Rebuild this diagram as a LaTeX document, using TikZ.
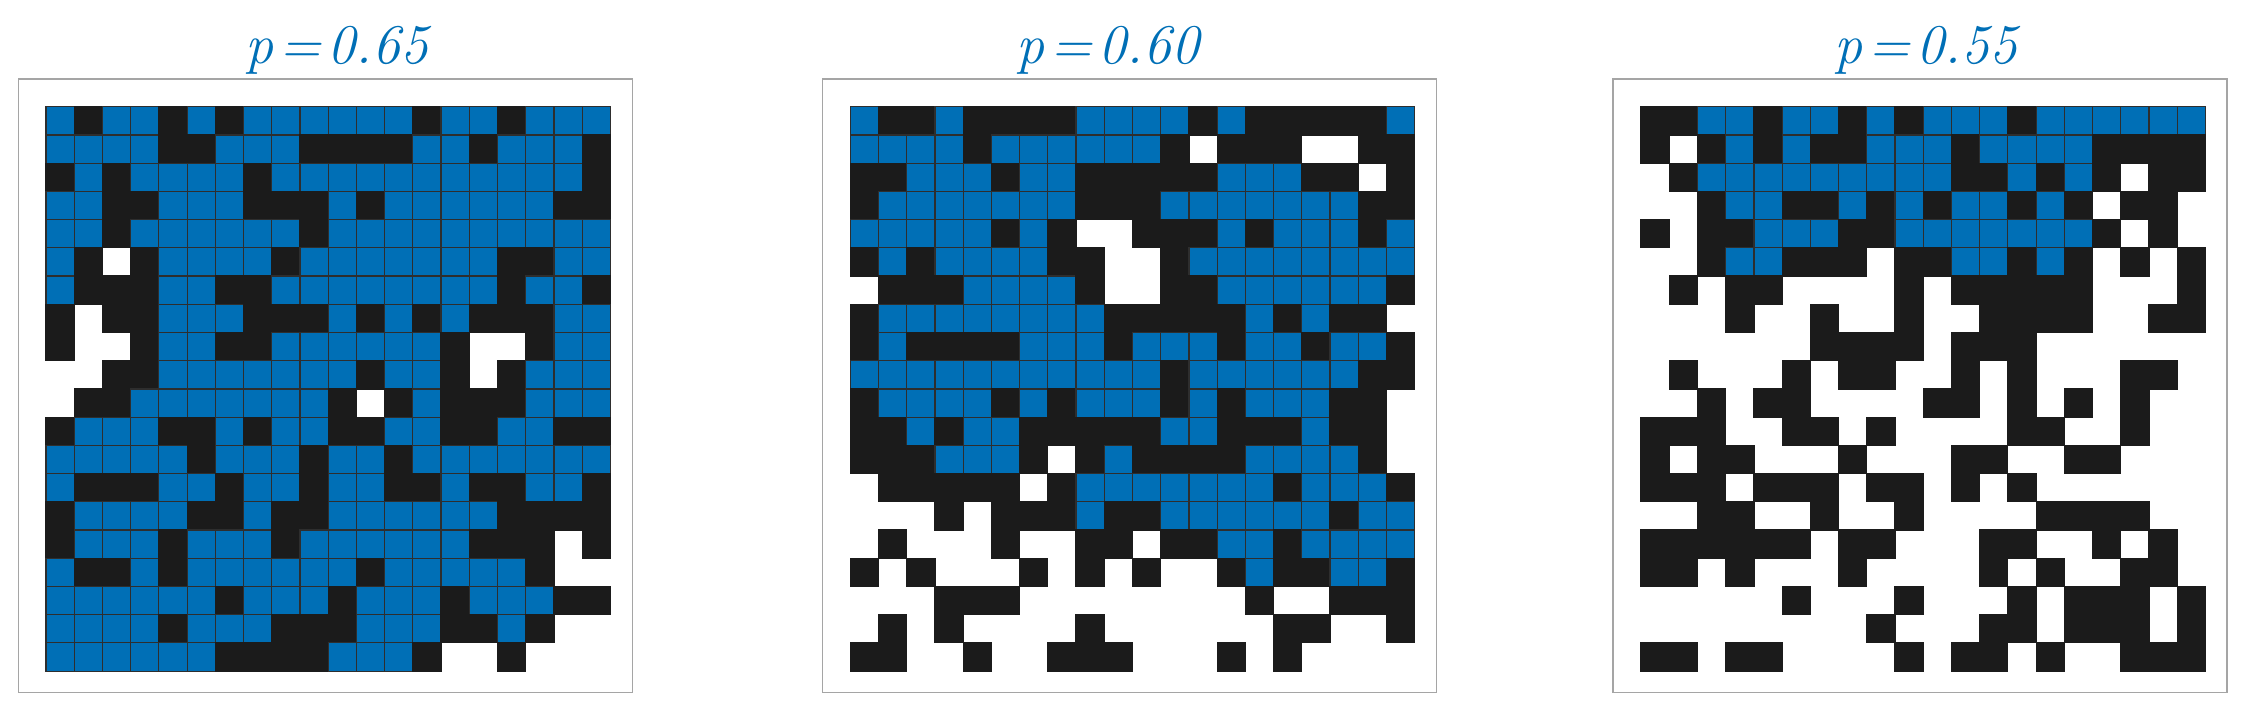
\documentclass[tikz,border=0pt]{standalone}
\usepackage{fontspec}
\definecolor{cellblue}{RGB}{0,111,182}
\definecolor{cellblack}{RGB}{27,27,27}
\definecolor{framegray}{RGB}{165,165,165}
\newcommand\percgrid[2]{%
  \foreach \row [count=\r from 0] in {#2} {
    \foreach \v [count=\c from 0] in \row {
      \ifnum\v=1 \path[blackcell] ({#1+\c*28.22},{106.7+\r*28.22}) rectangle ++(28.22,28.22); \fi
      \ifnum\v=2 \path[bluecell] ({#1+\c*28.22},{106.7+\r*28.22}) rectangle ++(28.22,28.22); \fi
    }
  }
}
\begin{document}
\begin{tikzpicture}[x=1pt,y=-1pt,
  bluecell/.style={fill=cellblue,draw=black!82,line width=1.2pt},
  blackcell/.style={fill=cellblack,draw=cellblack,line width=1.2pt},
  panelframe/.style={draw=framegray,line width=1.5pt},
  paneltitle/.style={text=cellblue,font=\fontsize{56}{58}\selectfont\itshape,anchor=base,inner sep=0pt}]
\useasboundingbox (0,0) rectangle (2264,716);

% frames
\draw[panelframe] (18.3,79) rectangle ++(614,613.7);
\draw[panelframe] (822.3,79) rectangle ++(614,613.7);
\draw[panelframe] (1613,79) rectangle ++(614,613.7);

% titles
\node[paneltitle] (t1) at (336.7,63) {p\hspace{6pt}=\hspace{6pt}0.65};
\node[paneltitle] (t2) at (1108,63) {p\hspace{6pt}=\hspace{6pt}0.60};
\node[paneltitle] (t3) at (1925.6,63) {p\hspace{6pt}=\hspace{6pt}0.55};

% panel 1: p = 0.65
\percgrid{46}{
{2,1,2,2,1,2,1,2,2,2,2,2,2,1,2,2,1,2,2,2},
{2,2,2,2,1,1,2,2,2,1,1,1,1,2,2,1,2,2,2,1},
{1,2,1,2,2,2,2,1,2,2,2,2,2,2,2,2,2,2,2,1},
{2,2,1,1,2,2,2,1,1,1,2,1,2,2,2,2,2,2,1,1},
{2,2,1,2,2,2,2,2,2,1,2,2,2,2,2,2,2,2,2,2},
{2,1,0,1,2,2,2,2,1,2,2,2,2,2,2,2,1,1,2,2},
{2,1,1,1,2,2,1,1,2,2,2,2,2,2,2,2,1,2,2,1},
{1,0,1,1,2,2,2,1,1,1,2,1,2,1,2,1,1,1,2,2},
{1,0,0,1,2,2,1,1,2,2,2,2,2,2,1,0,0,1,2,2},
{0,0,1,1,2,2,2,2,2,2,2,1,2,2,1,0,1,2,2,2},
{0,1,1,2,2,2,2,2,2,2,1,0,1,2,1,1,1,2,2,2},
{1,2,2,2,1,1,2,1,2,2,1,1,2,2,1,1,2,2,1,1},
{2,2,2,2,2,1,2,2,2,1,2,2,1,2,2,2,2,2,2,2},
{2,1,1,1,2,2,1,2,2,1,2,2,1,1,2,1,1,2,2,1},
{1,2,2,2,2,1,1,2,1,1,2,2,2,2,2,2,1,1,1,1},
{1,2,2,2,1,2,2,2,1,2,2,2,2,2,2,1,1,1,0,1},
{2,1,1,2,1,2,2,2,2,2,2,1,2,2,2,2,2,1,0,0},
{2,2,2,2,2,2,1,2,2,2,1,2,2,2,1,2,2,2,1,1},
{2,2,2,2,1,2,2,2,1,1,1,2,2,2,1,1,2,1,0,0},
{2,2,2,2,2,2,1,1,1,1,2,2,2,1,0,0,1,0,0,0}}

% panel 2: p = 0.60
\percgrid{850.3}{
{2,1,1,2,1,1,1,1,2,2,2,2,1,2,1,1,1,1,1,2},
{2,2,2,2,1,2,2,2,2,2,2,1,0,1,1,1,0,0,1,1},
{1,1,2,2,2,1,2,2,1,1,1,1,1,2,2,2,1,1,0,1},
{1,2,2,2,2,2,2,2,1,1,1,2,2,2,2,2,2,2,1,1},
{2,2,2,2,2,1,2,1,0,0,1,1,1,2,1,2,2,2,1,2},
{1,2,1,2,2,2,2,1,1,0,0,1,2,2,2,2,2,2,2,2},
{0,1,1,1,2,2,2,2,1,0,0,1,1,2,2,2,2,2,2,1},
{1,2,2,2,2,2,2,2,2,1,1,1,1,1,2,1,2,1,1,0},
{1,2,1,1,1,1,2,2,2,1,2,2,2,1,2,2,1,2,2,1},
{2,2,2,2,2,2,2,2,2,2,2,1,2,2,2,2,2,2,1,1},
{1,2,2,2,2,1,2,1,2,2,2,1,2,1,2,2,2,1,1,0},
{1,1,2,1,2,2,1,1,1,1,1,2,2,1,1,1,2,1,1,0},
{1,1,1,2,2,2,1,0,1,2,1,1,1,1,2,2,2,2,1,0},
{0,1,1,1,1,1,0,1,2,2,2,2,2,2,2,1,2,2,2,1},
{0,0,0,1,0,1,1,1,2,1,1,2,2,2,2,2,2,1,2,2},
{0,1,0,0,0,1,0,0,1,1,0,1,1,2,2,1,2,2,2,2},
{1,0,1,0,0,0,1,0,1,0,1,0,0,1,2,1,1,2,2,1},
{0,0,0,1,1,1,0,0,0,0,0,0,0,0,1,0,0,1,1,1},
{0,1,0,1,0,0,0,0,1,0,0,0,0,0,0,1,1,0,0,1},
{1,1,0,0,1,0,0,1,1,1,0,0,0,1,0,1,0,0,0,0}}

% panel 3: p = 0.55
\percgrid{1641}{
{1,1,2,2,1,2,2,1,2,1,2,2,2,1,2,2,2,2,2,2},
{1,0,1,2,1,2,1,1,2,2,2,1,2,2,2,2,1,1,1,1},
{0,1,2,2,2,2,2,2,2,2,2,1,1,2,1,2,1,0,1,1},
{0,0,1,2,2,1,1,2,1,2,1,2,2,1,2,1,0,1,1,0},
{1,0,1,1,2,2,2,1,1,2,2,2,2,2,2,2,1,0,1,0},
{0,0,1,2,2,1,1,1,0,1,1,2,2,1,2,1,0,1,0,1},
{0,1,0,1,1,0,0,0,0,1,0,1,1,1,1,1,0,0,0,1},
{0,0,0,1,0,0,1,0,0,1,0,0,1,1,1,1,0,0,1,1},
{0,0,0,0,0,0,1,1,1,1,0,1,1,1,0,0,0,0,0,0},
{0,1,0,0,0,1,0,1,1,0,0,1,0,1,0,0,0,1,1,0},
{0,0,1,0,1,1,0,0,0,0,1,1,0,1,0,1,0,1,0,0},
{1,1,1,0,0,1,1,0,1,0,0,0,0,1,1,0,0,1,0,0},
{1,0,1,1,0,0,0,1,0,0,0,1,1,0,0,1,1,0,0,0},
{1,1,1,0,1,1,1,0,1,1,0,1,0,1,0,0,0,0,0,0},
{0,0,1,1,0,0,1,0,0,1,0,0,0,0,1,1,1,1,0,0},
{1,1,1,1,1,1,0,1,1,0,0,0,1,1,0,0,1,0,1,0},
{1,1,0,1,0,0,0,1,0,0,0,0,1,0,1,0,0,1,1,0},
{0,0,0,0,0,1,0,0,0,1,0,0,0,1,0,1,1,1,0,1},
{0,0,0,0,0,0,0,0,1,0,0,0,1,1,0,1,1,1,0,1},
{1,1,0,1,1,0,0,0,0,1,0,1,1,0,1,0,0,1,1,1}}
\end{tikzpicture}
\end{document}
